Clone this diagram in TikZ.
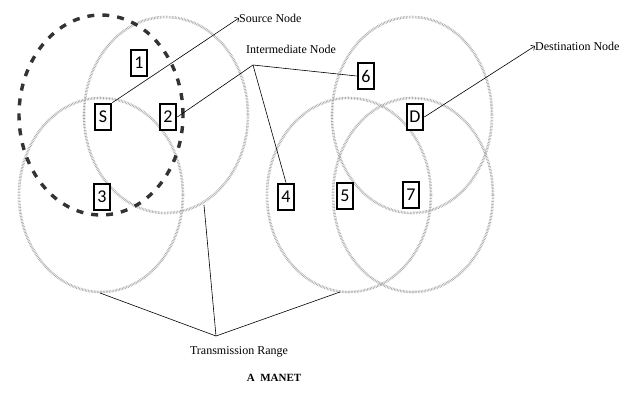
\documentclass[tikz,border=0pt]{standalone}
\usepackage{fontspec}
\setmainfont{Liberation Serif}
\newfontfamily\boxfont{Carlito}
\usetikzlibrary{arrows.meta}

\begin{document}
\begin{tikzpicture}[x=1pt,y=-1pt,
    host/.style={draw,line width=2.7pt,fill=white,minimum width=16pt,
        minimum height=26pt,inner sep=0pt,font=\boxfont\fontsize{18}{18}\selectfont},
    rangering/.style={gray!70,line width=2.6pt,dash pattern=on 0.6pt off 0.9pt},
    srcring/.style={black!80,line width=3.4pt,dash pattern=on 7pt off 8pt},
    notetext/.style={font=\fontsize{12}{14}\selectfont,inner sep=0pt},
    pointer/.style={line width=0.6pt},
    barbtip/.style={-{Straight Barb[length=3pt,width=6pt]}}
]
    \useasboundingbox (0,0) rectangle (627,399);

    % Transmission ranges
    \foreach \cx/\cy/\rx/\ry in {166/115/82/98, 101/195/82/97, 412/115/80/98,
                                 349/195/82/97, 413/195/80/97}
        \draw[rangering] (\cx,\cy) ellipse (\rx pt and \ry pt);

    % Range of the source
    \draw[srcring] (101,115) ellipse (82pt and 100pt);

    % Mobile hosts
    \foreach \name/\lbl/\x/\y in {one/1/139/63, src/S/103/117, two/2/168/117,
                                  three/3/102/197, four/4/286/197, five/5/345/196,
                                  six/6/366/76, dst/D/415/117, seven/7/411/195}
        \node[host] (\name) at (\x,\y) {\lbl};

    % Labels
    \node[notetext,anchor=west] (srclbl) at (239,18) {Source Node};
    \node[notetext] (midlbl) at (291,49) {Intermediate Node};
    \node[notetext,anchor=west] (dstlbl) at (535,46) {Destination Node};
    \node[notetext] (rangelbl) at (239,352) {Transmission Range};
    \node[notetext,font=\bfseries\fontsize{11}{14}\selectfont] (title) at (274,378) {A\ \ MANET};

    % Pointers to the hosts
    \coordinate (midjoin) at (253,65);
    \draw[pointer,barbtip] (src.north east) -- (srclbl.west);
    \draw[pointer] (two.east) -- (midjoin) -- (six.west);
    \draw[pointer] (midjoin) -- (four.north);
    \draw[pointer,barbtip] (dst.east) -- (dstlbl.west);

    % Pointers to the ranges
    \coordinate (rangejoin) at (216,336);
    \coordinate (rangeA) at (100,293);
    \coordinate (rangeB) at (204,205);
    \coordinate (rangeC) at (340,292);
    \draw[pointer] (rangeA) -- (rangejoin) -- (rangeC);
    \draw[pointer] (rangejoin) -- (rangeB);

\end{tikzpicture}
\end{document}
